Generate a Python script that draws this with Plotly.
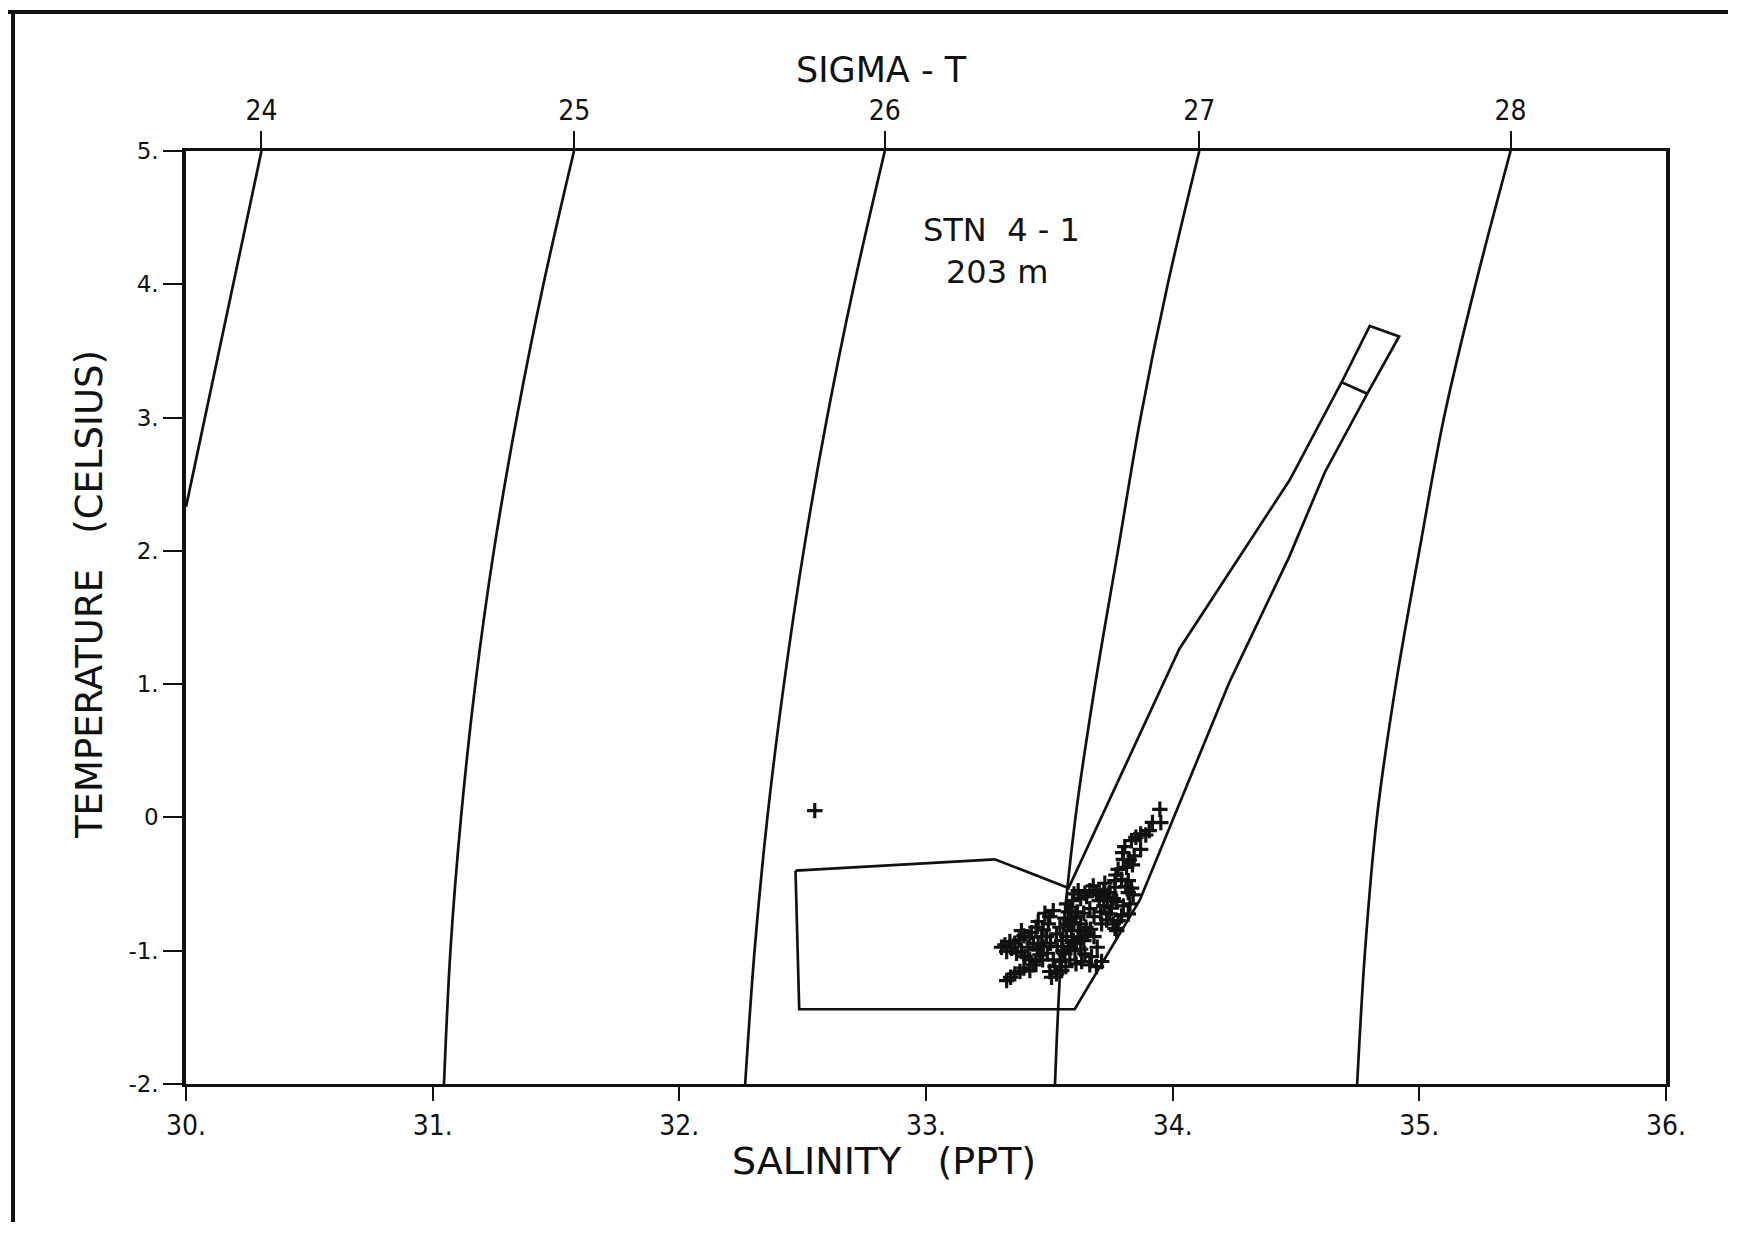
import plotly.graph_objects as go

# ---------------- data ----------------
sal_ticks = [30, 31, 32, 33, 34, 35, 36]
sal_ticktext = ["30.", "31.", "32.", "33.", "34.", "35.", "36."]
temp_ticks = [-2, -1, 0, 1, 2, 3, 4, 5]
temp_ticktext = ["-2.", "-1.", "0", "1.", "2.", "3.", "4.", "5."]

sigma_labels = ["24", "25", "26", "27", "28"]
sigma_top_sal = [30.306, 31.574, 32.833, 34.108, 35.370]

# isopycnals (salinity, temperature)
iso24_s = [30.306, 30.157, 30.0]
iso24_t = [5.0, 3.70, 2.33]
iso_t = [-2, -1, 0, 1, 2, 3, 4, 5]
iso25_s = [31.046, 31.072, 31.115, 31.173, 31.248, 31.341, 31.449, 31.573]
iso26_s = [32.267, 32.305, 32.357, 32.424, 32.504, 32.599, 32.709, 32.833]
iso27_s = [33.523, 33.550, 33.606, 33.686, 33.778, 33.870, 33.980, 34.108]
iso28_s = [34.748, 34.780, 34.828, 34.905, 35.000, 35.100, 35.228, 35.370]

# envelope polygon
env_s = [32.471, 33.279, 33.578, 34.027, 34.475, 34.685, 34.799, 34.918, 34.789,
         34.617, 34.472, 34.229, 33.867, 33.603, 32.486, 32.471]
env_t = [-0.399, -0.314, -0.530, 1.264, 2.533, 3.265, 3.687, 3.609, 3.179,
         2.590, 1.953, 1.011, -0.619, -1.439, -1.439, -0.399]
cross_s = [34.685, 34.789]
cross_t = [3.265, 3.179]

# observations
obs_s = [33.948, 33.952, 33.918, 33.905, 33.891, 33.870, 33.851, 33.833, 33.870, 33.844,
         33.824, 33.806, 33.797, 33.800, 33.837, 33.813, 33.779, 33.770, 33.793, 33.766,
         33.820, 33.810, 33.820, 33.766, 33.745, 33.721, 33.735, 33.759, 33.678, 33.691,
         33.664, 33.644, 33.617, 33.600, 33.594, 33.627, 33.651, 33.702, 33.721, 33.773,
         33.800, 33.827, 33.820, 33.793, 33.779, 33.759, 33.766, 33.745, 33.708, 33.681,
         33.664, 33.640, 33.613, 33.590, 33.570, 33.577, 33.563, 33.577, 33.600, 33.627,
         33.648, 33.667, 33.681, 33.654, 33.640, 33.617, 33.597, 33.583, 33.604, 33.627,
         33.644, 33.694, 33.671, 33.712, 33.691, 33.664, 33.631, 33.608, 33.583, 33.567,
         33.550, 33.529, 33.509, 33.523, 33.543, 33.556, 33.532, 33.505, 33.489, 33.475,
         33.496, 33.502, 33.516, 33.482, 33.455, 33.446, 33.428, 33.419, 33.397, 33.387,
         33.378, 33.360, 33.340, 33.320, 33.306, 33.327, 33.347, 33.367, 33.387, 33.401,
         33.421, 33.435, 33.446, 33.462, 33.473, 33.451, 33.475, 33.455, 33.435, 33.414,
         33.397, 33.381, 33.360, 33.343, 33.327, 33.421, 33.529, 33.543, 33.550, 33.570,
         33.590, 33.617, 33.631, 33.563, 33.577, 33.610, 33.712, 33.732, 33.705, 33.725,
         33.833, 33.840, 33.773, 33.752, 33.502, 33.516, 33.492, 33.469, 33.583, 33.604,
         32.549]
obs_t = [0.061, -0.039, -0.037, -0.099, -0.132, -0.124, -0.149, -0.174, -0.239, -0.289,
         -0.319, -0.219, -0.264, -0.314, -0.356, -0.374, -0.389, -0.432, -0.464, -0.474,
         -0.474, -0.519, -0.564, -0.524, -0.564, -0.544, -0.599, -0.609, -0.514, -0.564,
         -0.549, -0.569, -0.549, -0.574, -0.624, -0.609, -0.594, -0.624, -0.664, -0.631,
         -0.664, -0.649, -0.724, -0.739, -0.774, -0.799, -0.832, -0.724, -0.709, -0.744,
         -0.684, -0.719, -0.709, -0.674, -0.649, -0.709, -0.756, -0.799, -0.789, -0.799,
         -0.824, -0.839, -0.894, -0.874, -0.924, -0.899, -0.924, -0.969, -0.999, -0.989,
         -1.024, -0.974, -1.044, -1.081, -1.119, -1.106, -1.081, -1.099, -1.069, -1.119,
         -1.149, -1.174, -1.199, -1.119, -1.081, -0.999, -0.969, -0.944, -0.894, -0.844,
         -0.799, -0.744, -0.699, -0.719, -0.781, -0.824, -0.864, -0.899, -0.889, -0.849,
         -0.919, -0.944, -0.931, -0.956, -0.974, -1.006, -0.981, -1.019, -1.006, -1.044,
         -1.069, -1.106, -1.081, -1.031, -1.069, -0.994, -0.969, -0.944, -0.949, -0.974,
         -1.131, -1.156, -1.174, -1.199, -1.224, -1.149, -0.874, -0.824, -0.924, -0.894,
         -0.849, -0.849, -0.894, -1.024, -0.974, -0.944, -0.799, -0.769, -0.581, -0.494,
         -0.531, -0.581, -0.849, -0.681, -1.156, -1.069, -1.019, -0.894, -0.769, -0.744,
         0.051]

# ---------------- figure ----------------
INK = "#111111"
OFF = 8                      # default body margin of the html page
W, H = 1720, 1214            # figure size (page is 1739 x 1234)
PW, PH = 1480, 933           # plot area in pixels
L, T = 186 - OFF, 151 - OFF  # plot area left / top on the figure
R, B = W - L - PW, H - T - PH

NARROW = "Liberation Sans Narrow, DejaVu Sans Condensed, Roboto, sans-serif"
WIDE = "DejaVu Sans, Liberation Sans, sans-serif"


def px(xpage):
    return (xpage - OFF - L) / PW


def py(ypage):
    return (T + PH - (ypage - OFF)) / PH


fig = go.Figure()

fig.add_trace(go.Scatter(x=iso24_s, y=iso24_t, mode="lines",
                         line=dict(color=INK, width=2.7), hoverinfo="skip",
                         showlegend=False))
for s in [iso25_s, iso26_s, iso27_s, iso28_s]:
    fig.add_trace(go.Scatter(x=s, y=iso_t, mode="lines",
                             line=dict(color=INK, width=2.7, shape="spline", smoothing=1.0),
                             hoverinfo="skip", showlegend=False))

fig.add_trace(go.Scatter(x=env_s, y=env_t, mode="lines",
                         line=dict(color=INK, width=2.7), showlegend=False))
fig.add_trace(go.Scatter(x=cross_s, y=cross_t, mode="lines",
                         line=dict(color=INK, width=2.7), showlegend=False))

fig.add_trace(go.Scatter(x=obs_s, y=obs_t, mode="markers",
                         marker=dict(symbol="cross-thin", size=11,
                                     line=dict(color=INK, width=3.2), color=INK),
                         showlegend=False))

# invisible trace to activate the top (sigma-t) axis
fig.add_trace(go.Scatter(x=sigma_top_sal, y=[5] * len(sigma_top_sal), xaxis="x2",
                         mode="markers", marker=dict(opacity=0), hoverinfo="skip",
                         showlegend=False))

fig.update_layout(
    width=W, height=H, autosize=False,
    margin=dict(l=L, r=R, t=T, b=B, pad=0),
    paper_bgcolor="white", plot_bgcolor="white",
    font=dict(family=WIDE, color=INK),
    xaxis=dict(range=[30, 36], tickvals=sal_ticks, ticktext=sal_ticktext,
               ticks="outside", ticklen=14, tickwidth=2, tickcolor=INK,
               showline=True, linewidth=3, linecolor=INK, mirror=True,
               showgrid=False, zeroline=False,
               tickfont=dict(size=28, family=NARROW)),
    xaxis2=dict(range=[30, 36], overlaying="x", side="top", anchor="y",
                tickvals=sigma_top_sal, ticktext=sigma_labels,
                ticks="outside", ticklen=19, tickwidth=2, tickcolor=INK,
                showline=False, showgrid=False, zeroline=False,
                tickfont=dict(size=28, family=NARROW)),
    yaxis=dict(range=[-2, 5], tickvals=temp_ticks, ticktext=temp_ticktext,
               ticks="outside", ticklen=19, tickwidth=2, tickcolor=INK,
               showline=True, linewidth=3.5, linecolor=INK, mirror=True,
               showgrid=False, zeroline=False,
               tickfont=dict(size=23, family=WIDE)),
)

annotations = [
    dict(text="SIGMA - T", x=px(881), y=py(70), xref="paper", yref="paper",
         xanchor="center", yanchor="middle", showarrow=False,
         font=dict(size=35, family=WIDE)),
    dict(text="SALINITY   (PPT)", x=px(884), y=py(1161), xref="paper", yref="paper",
         xanchor="center", yanchor="middle", showarrow=False,
         font=dict(size=38, family=WIDE)),
    dict(text="TEMPERATURE   (CELSIUS)", x=px(89), y=py(595), xref="paper", yref="paper",
         xanchor="center", yanchor="middle", showarrow=False, textangle=-90,
         font=dict(size=37, family=WIDE)),
    dict(text="STN  4 - 1", x=33.308, y=4.407, xref="x", yref="y",
         xanchor="center", yanchor="middle", showarrow=False,
         font=dict(size=32, family=WIDE)),
    dict(text="203 m", x=33.287, y=4.09, xref="x", yref="y",
         xanchor="center", yanchor="middle", showarrow=False,
         font=dict(size=32, family=WIDE)),
]
fig.update_layout(annotations=annotations)

# scanned page frame (left and top edges, bottom-right fragment)
fig.add_shape(type="line", xref="paper", yref="paper",
              x0=px(13), x1=px(13), y0=py(10), y1=py(1240),
              line=dict(color=INK, width=4))
fig.add_shape(type="line", xref="paper", yref="paper",
              x0=px(8), x1=px(1745), y0=py(12), y1=py(12),
              line=dict(color=INK, width=4))
fig.add_shape(type="line", xref="paper", yref="paper",
              x0=px(1660), x1=px(1745), y0=py(1231), y1=py(1231),
              line=dict(color="#999999", width=3))

fig.write_html("out.html")
